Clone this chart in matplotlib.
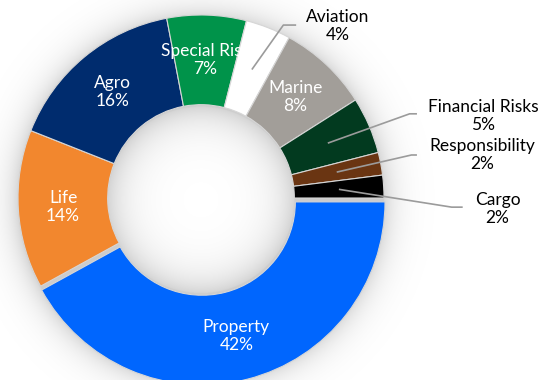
import numpy as np
import matplotlib
matplotlib.use("Agg")
import matplotlib.pyplot as plt

# Portfolio split by line of business (percent)
categories = ["Property", "Life", "Agro", "Special Risk", "Aviation",
              "Marine", "Financial Risks", "Responsibility", "Cargo"]
shares = [42, 14, 16, 7, 4, 8, 5, 2, 2]
colors = ["#0066FE", "#F2872E", "#002C6E", "#00934A", "#FFFFFF",
          "#A29E99", "#023A1F", "#6A3512", "#000000"]
inside = ["Property", "Life", "Agro", "Special Risk", "Marine"]

plt.rcParams["font.family"] = ["Lato", "DejaVu Sans"]

W, H, DPI = 546, 380, 100
R_PX = 183.0          # outer radius in pixels
CX, CY = 201.0, 198.0  # centre in pixels (from top-left)
RING = 0.49           # ring width as fraction of radius

fig = plt.figure(figsize=(W / DPI, H / DPI), dpi=DPI)
ax = fig.add_axes([0, 0, 1, 1])

xlim = (-CX / R_PX, (W - CX) / R_PX)
ylim = (-(H - CY) / R_PX, CY / R_PX)

# soft drop shadow around the ring, under it, and inside the hole
nx, ny = 546 * 2, 380 * 2
xs = np.linspace(xlim[0], xlim[1], nx)
ys = np.linspace(ylim[0], ylim[1], ny)
gx, gy = np.meshgrid(xs, ys)
rho = np.hypot(gx, gy + 0.01)
inner = 1 - RING
dark = np.full_like(rho, 0.2)
out = rho > 1
dark[out] = 0.16 * np.exp(-(rho[out] - 1) / 0.075)
hole = rho < inner
dark[hole] = 0.17 * np.exp(-(inner - rho[hole]) / 0.11)
img = np.zeros((ny, nx, 4))
img[..., 3] = dark
ax.imshow(img, extent=(xlim[0], xlim[1], ylim[0], ylim[1]), origin="lower",
          zorder=0, interpolation="bilinear")

explode = [0.022 if c == "Property" else 0 for c in categories]
wedges, _ = ax.pie(shares, colors=colors, startangle=0, counterclock=False,
                   radius=1, explode=explode,
                   wedgeprops=dict(width=RING, edgecolor="#d6d6d6", linewidth=0.8))
for w in wedges:
    w.set_zorder(2)

FS = 12.5
mid_r = 1 - RING / 2

# leader-line elbows and label anchors for the small slices (data units)
outer_layout = {
    "Aviation": ((0.45, 0.945), (0.52, 0.945), (0.745, 0.94)),
    "Financial Risks": ((1.14, 0.46), (1.18, 0.46), (1.54, 0.45)),
    "Responsibility": ((1.15, 0.235), (1.18, 0.235), (1.535, 0.235)),
    "Cargo": ((1.37, -0.05), (1.43, -0.05), (1.62, -0.06)),
}

for w, name, val in zip(wedges, categories, shares):
    ang = np.deg2rad((w.theta1 + w.theta2) / 2)
    cx, cy = w.center
    px, py = cx + mid_r * np.cos(ang), cy + mid_r * np.sin(ang)
    label = f"{name}\n{val}%"
    if name in inside:
        ax.text(px, py, label, color="white", fontsize=FS, ha="center",
                va="center", linespacing=1.15, zorder=4)
    else:
        elbow, end, tpos = outer_layout[name]
        ax.plot([px, elbow[0], end[0]], [py, elbow[1], end[1]],
                color="#9b9b9b", lw=1.2, zorder=3, solid_capstyle="butt")
        ax.text(tpos[0], tpos[1], label, color="black", fontsize=FS,
                ha="center", va="center", linespacing=1.15, zorder=4)

ax.set_xlim(*xlim)
ax.set_ylim(*ylim)
ax.set_aspect("equal", adjustable="box")
ax.axis("off")

fig.savefig("out.png", dpi=DPI, facecolor="white")
